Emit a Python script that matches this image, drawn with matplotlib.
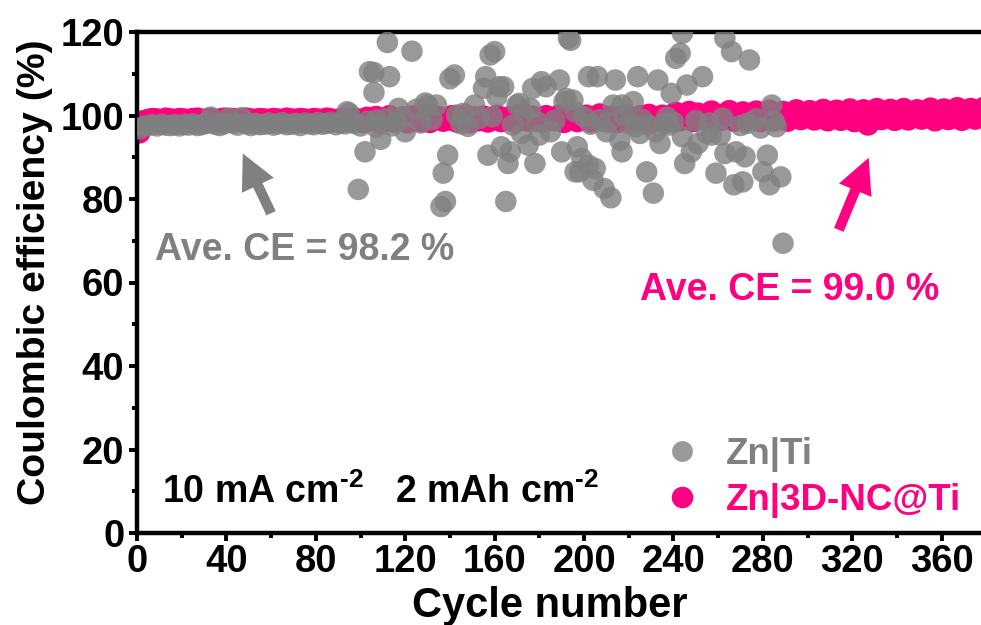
import matplotlib
matplotlib.use("Agg")
import matplotlib.pyplot as plt
from matplotlib.lines import Line2D
from matplotlib.ticker import MultipleLocator

plt.rcParams['font.family'] = ['Liberation Sans', 'DejaVu Sans']
plt.rcParams['font.weight'] = 'bold'
plt.rcParams['mathtext.fontset'] = 'custom'
plt.rcParams['mathtext.rm'] = 'Liberation Sans:bold'
plt.rcParams['mathtext.bf'] = 'Liberation Sans:bold'
plt.rcParams['mathtext.it'] = 'Liberation Sans:bold'
plt.rcParams['mathtext.default'] = 'rm'

GRAY = '#808080'
PINK = '#FF0080'

# ---- Zn|3D-NC@Ti (pink), every 2nd cycle ----
pink_cycles = list(range(1, 381, 2))
pink_ce = [
    96.0, 98.6, 98.9, 99.1, 99.0, 98.8, 99.2, 99.0, 98.9, 99.1,
    99.0, 98.8, 99.1, 99.2, 98.9, 99.0, 99.1, 98.8, 99.0, 99.2,
    98.9, 99.1, 99.0, 98.8, 99.2, 99.0, 98.9, 99.1, 99.0, 98.9,
    99.1, 99.0, 98.8, 99.2, 99.0, 98.9, 99.1, 99.0, 98.8, 99.1,
    99.0, 98.9, 99.2, 99.0, 98.8, 99.1, 99.0, 98.7, 99.2, 99.0,
    98.5, 99.4, 98.9, 99.6, 98.3, 99.2, 99.8, 98.6, 99.1, 99.5,
    98.4, 99.7, 99.0, 98.7, 99.9, 98.5, 99.3, 99.6, 98.8, 99.1,
    99.8, 98.6, 99.2, 100.0, 98.4, 99.5, 98.9, 99.7, 98.6, 99.3,
    99.9, 98.7, 99.1, 99.6, 98.5, 100.1, 99.0, 98.8, 99.7, 99.2,
    98.6, 99.8, 99.1, 98.9, 100.0, 98.5, 99.4, 99.6, 98.7, 99.2,
    99.9, 98.6, 99.3, 100.2, 98.8, 99.1, 99.7, 98.5, 99.4, 100.0,
    98.7, 99.2, 99.8, 98.9, 100.1, 98.6, 99.5, 99.9, 98.8, 99.3,
    100.6, 98.9, 99.5, 100.8, 98.7, 100.4, 99.8, 99.1, 100.9, 99.4,
    98.9, 100.2, 101.0, 98.8, 99.9, 100.7, 99.0, 99.6, 100.9, 98.7,
    100.1, 101.1, 99.0, 99.7, 100.8, 98.8, 100.3, 101.2, 99.2, 99.8,
    101.0, 99.1, 100.2, 101.3, 98.9, 99.9, 101.1, 99.0, 100.5, 101.4,
    98.7, 100.0, 101.2, 97.9, 100.6, 101.5, 99.2, 100.1, 101.3, 99.0,
    99.8, 101.5, 99.1, 100.4, 101.2, 99.3, 99.9, 101.6, 98.9, 100.5,
    101.4, 99.2, 100.1, 101.7, 99.0, 100.3, 101.5, 99.3, 100.0, 101.8,
]

# ---- Zn|Ti (gray), stable part, every 2nd cycle ----
gray_early_cycles = list(range(1, 98, 2))
gray_early_ce = [
    96.8, 97.4, 97.6, 97.8, 97.5, 97.9, 97.7, 97.6, 97.8, 97.5,
    97.9, 97.7, 98.0, 97.6, 97.8, 98.1, 99.6, 97.9, 97.6, 98.0,
    99.4, 98.2, 97.7, 99.5, 98.0, 97.6, 98.1, 97.8, 97.9, 98.2,
    97.7, 98.0, 98.3, 97.8, 97.9, 98.1, 97.6, 98.2, 98.0, 97.8,
    98.3, 97.9, 98.1, 98.4, 97.8, 98.2, 98.0, 98.5, 98.1,
]

# ---- Zn|Ti (gray), unstable part ----
gray_late_cycles = [
    94, 95, 99, 100, 102, 103, 104, 106, 106, 107, 107, 109, 111, 112, 113, 114,
    116, 117, 119, 120, 123, 125, 127, 129, 130, 132, 134, 136, 137, 138, 139,
    140, 142, 143, 145, 146, 148, 151, 153, 155, 156, 157, 158, 159, 160, 161,
    162, 163, 164, 165, 166, 167, 168, 170, 171, 172, 173, 175, 176, 177, 178,
    179, 180, 181, 183, 185, 187, 189, 190, 191, 192, 193, 194, 195, 196, 196,
    197, 198, 199, 200, 202, 202, 203, 204, 205, 206, 207, 209, 210, 211, 212,
    213, 214, 216, 217, 217, 218, 220, 222, 223, 224, 225, 226, 228, 229, 231,
    232, 233, 234, 236, 237, 238, 239, 240, 241, 243, 244, 244, 245, 246, 248,
    250, 251, 253, 255, 256, 257, 259, 261, 262, 263, 263, 266, 267, 268, 270,
    271, 272, 273, 274, 277, 279, 280, 282, 283, 284, 285, 286, 288, 289,
]
gray_late_ce = [
    100.9, 100.5, 82.3, 97.5, 91.3, 98.6, 110.5, 110.3, 105.5, 98.9, 97.2, 94.3, 99.2, 117.5, 109.3, 97.5,
    98.4, 101.7, 99.6, 96.1, 115.4, 101.5, 98.2, 103.0, 102.5, 99.0, 102.5, 78.2, 86.2, 79.4, 90.5,
    108.8, 109.7, 100.1, 98.0, 100.5, 97.4, 102.5, 99.3, 106.5, 109.3, 90.5, 114.5, 99.7, 115.3, 104.5,
    106.9, 92.5, 106.9, 79.4, 88.5, 91.3, 97.7, 102.5, 102.9, 95.7, 100.5, 92.9, 101.7, 106.5, 88.5,
    98.5, 95.3, 108.1, 106.9, 96.1, 98.9, 108.5, 91.3, 103.3, 104.1, 118.5, 118.0, 103.7, 86.5, 100.9,
    92.5, 86.5, 89.7, 99.7, 88.1, 109.3, 97.9, 84.5, 87.3, 109.3, 99.0, 82.5, 96.1, 98.3, 80.3,
    102.5, 108.5, 94.1, 102.5, 91.3, 100.1, 98.0, 103.3, 97.3, 109.3, 95.7, 99.1, 86.5, 97.7, 81.4,
    96.1, 108.5, 93.3, 98.1, 99.6, 97.7, 105.3, 98.4, 113.7, 114.9, 119.7, 94.9, 88.5, 107.3, 91.3,
    98.8, 93.3, 109.3, 95.7, 98.2, 95.3, 86.2, 95.3, 99.4, 118.5, 90.9, 115.3, 83.4, 91.3, 97.6,
    84.1, 90.1, 98.1, 113.3, 99.2, 97.0, 86.5, 90.5, 83.4, 102.5, 98.6, 97.3, 85.3, 69.4,
]

x_ticks = [0, 40, 80, 120, 160, 200, 240, 280, 320, 360]
y_ticks = [0, 20, 40, 60, 80, 100, 120]

fig = plt.figure(figsize=(9.81, 6.25), dpi=100)
ax = fig.add_axes([137 / 981, 92 / 625, 849.4 / 981, 501 / 625])

ax.scatter(pink_cycles, pink_ce, s=270, color=PINK, edgecolors='none', zorder=2)
ax.scatter(gray_early_cycles, gray_early_ce, s=240, color=GRAY, alpha=0.8,
           edgecolors='none', zorder=3)
ax.scatter(gray_late_cycles, gray_late_ce, s=240, color=GRAY, alpha=0.8,
           edgecolors='none', zorder=3)

ax.set_xlim(0, 380)
ax.set_ylim(0, 120)
ax.set_xticks(x_ticks)
ax.set_yticks(y_ticks)
ax.xaxis.set_minor_locator(MultipleLocator(20))
ax.yaxis.set_minor_locator(MultipleLocator(10))
ax.tick_params(axis='both', which='major', direction='out', length=6, width=2.8,
               labelsize=27.5, pad=3)
ax.tick_params(axis='x', which='major', pad=2)
ax.tick_params(axis='both', which='minor', direction='out', length=3.5, width=2.8)
for lab in ax.get_xticklabels() + ax.get_yticklabels():
    lab.set_fontweight('bold')
for sp in ax.spines.values():
    sp.set_linewidth(3.2)

ax.set_xlabel('Cycle number', fontsize=30, fontweight='bold')
ax.xaxis.set_label_coords(0.486, -0.105)
ax.set_ylabel('Coulombic efficiency (%)', fontsize=28.3, fontweight='bold')
ax.yaxis.set_label_coords(-0.099, 0.521)

ax.text(0.021, 0.565, 'Ave. CE = 98.2 %', transform=ax.transAxes, color=GRAY,
        fontsize=27, fontweight='bold', va='center', ha='left')
ax.text(0.592, 0.485, 'Ave. CE = 99.0 %', transform=ax.transAxes, color=PINK,
        fontsize=27, fontweight='bold', va='center', ha='left')
ax.text(0.029, 0.082, r'10 mA cm$^{\text{-2}}$   2 mAh cm$^{\text{-2}}$',
        transform=ax.transAxes, color='black', fontsize=27, fontweight='bold',
        va='center', ha='left')

arrow_style = 'simple,head_length=1.1,head_width=1.1,tail_width=0.32'
ax.annotate('', xy=(46.8, 91.5), xytext=(60.5, 76.0),
            arrowprops=dict(arrowstyle=arrow_style, color=GRAY, mutation_scale=23, lw=0))
ax.annotate('', xy=(327.8, 90.5), xytext=(313.5, 72.0),
            arrowprops=dict(arrowstyle=arrow_style, color=PINK, mutation_scale=23, lw=0))

handles = [
    Line2D([], [], marker='o', linestyle='none', markersize=15, color=GRAY,
           alpha=0.8, markeredgewidth=0),
    Line2D([], [], marker='o', linestyle='none', markersize=15.5, color=PINK,
           markeredgewidth=0),
]
ax.legend(handles, ['Zn|Ti', 'Zn|3D-NC@Ti'], loc='lower left',
          bbox_to_anchor=(0.620, 0.030), frameon=False,
          labelcolor=[GRAY, PINK], handlelength=1.0, handletextpad=0.7,
          labelspacing=0.3, borderpad=0.0, borderaxespad=0.0,
          prop={'weight': 'bold', 'size': 26.5})

fig.savefig('out.png', dpi=100)
